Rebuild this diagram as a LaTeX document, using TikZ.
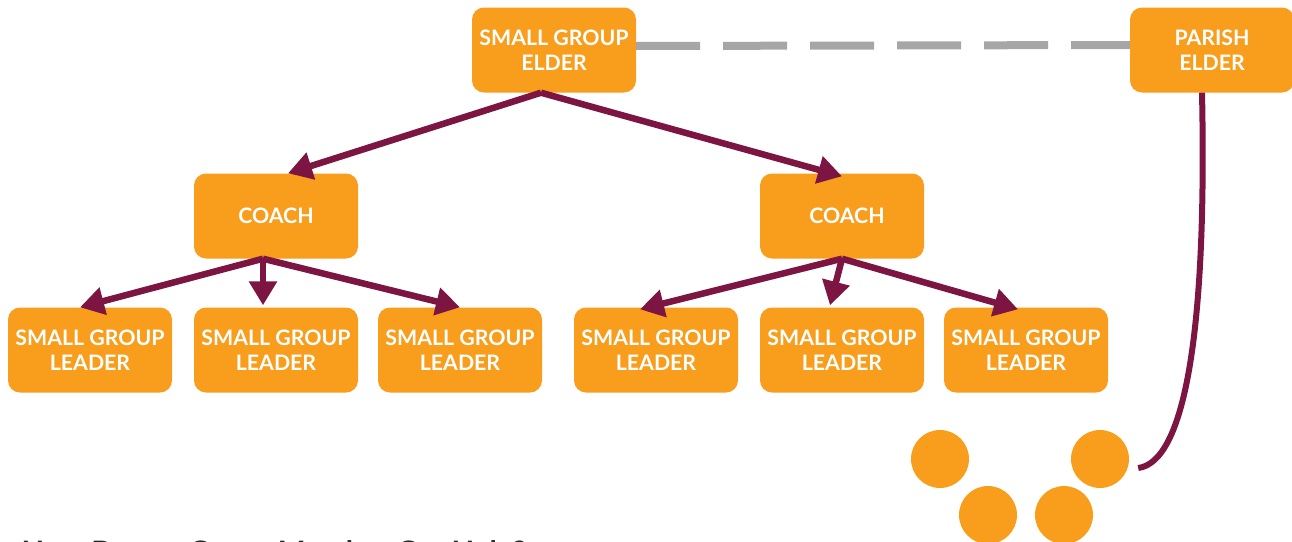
\documentclass[tikz,border=0pt]{standalone}
\usepackage{fontspec}
\setmainfont{Lato}
\usetikzlibrary{arrows.meta,calc,positioning}

\definecolor{sgorange}{HTML}{F99D1C}
\definecolor{sgmaroon}{HTML}{7D1542}
\definecolor{sggray}{HTML}{A6A6A6}

\begin{document}
\begin{tikzpicture}[x=1pt, y=-1pt,
    role/.style={rectangle, rounded corners=12pt, fill=sgorange, text=white,
      font=\bfseries\fontsize{21.3}{25}\selectfont, minimum width=164pt,
      minimum height=85pt, inner sep=0pt, align=center},
    member/.style={circle, fill=sgorange, minimum size=58pt, inner sep=0pt},
    link/.style={draw=sgmaroon, line width=6.5pt,
      -{Triangle[length=24pt,width=27pt]}}]

  \useasboundingbox (0,0) rectangle (1292,541);

  % elders
  \node [role] (elder) at (554,50) {SMALL GROUP\\ELDER} ;
  \node [role] (parish) at (1212,50) {PARISH\\ELDER} ;

  % coaches
  \node [role] (coachL) at (276,216) {COACH} ;
  \node [role] (coachR) at (842,216) {\hspace{10pt}COACH} ;

  % leaders
  \node [role] (leadA) at (90,350) {SMALL GROUP\\LEADER} ;
  \node [role] (leadB) at (276,350) {SMALL GROUP\\LEADER} ;
  \node [role] (leadC) at (460,350) {SMALL GROUP\\LEADER} ;
  \node [role] (leadD) at (656,350) {SMALL GROUP\\LEADER} ;
  \node [role] (leadE) at (842,350) {SMALL GROUP\\LEADER} ;
  \node [role] (leadF) at (1026,350) {SMALL GROUP\\LEADER} ;

  % group members
  \node [member] (memA) at (940,459) {} ;
  \node [member] (memB) at (988,515) {} ;
  \node [member] (memC) at (1064,515) {} ;
  \node [member] (memD) at (1100,459) {} ;

  \draw [sggray, line width=8pt, dash pattern=on 64pt off 23pt]
    ([yshift=4pt]elder.east) -- ([yshift=5pt]parish.west) ;

  \draw [link] ([xshift=-13pt]elder.south) -- ([xshift=12pt]coachL.north) ;
  \draw [link] ([xshift=-13pt]elder.south) -- ([yshift=-3pt]coachR.north) ;

  \draw [link] ([xshift=-13pt]coachL.south) -- ([xshift=-10pt]leadA.north) ;
  \draw [link] ([xshift=-13pt]coachL.south) -- ([xshift=-13pt,yshift=2pt]leadB.north) ;
  \draw [link] ([xshift=-13pt]coachL.south) -- (leadC.north) ;

  \draw [link] (coachR.south) -- ([xshift=-16pt,yshift=-2pt]leadD.north) ;
  \draw [link] (coachR.south) -- ([xshift=-12pt,yshift=2pt]leadE.north) ;
  \draw [link] (coachR.south) -- ([xshift=-8pt,yshift=-2pt]leadF.north) ;

  \draw [sgmaroon, line width=6pt]
    ([xshift=-10pt]parish.south) .. controls (1207,330) and (1185,462) ..
    ([xshift=9pt,yshift=-9pt]memD.east) ;

  \node [anchor=base west, text=black!85, font=\bfseries\fontsize{29.5}{31}\selectfont]
    (question) at (18,562) {How Does a Group Member Get Help?} ;

\end{tikzpicture}
\end{document}
